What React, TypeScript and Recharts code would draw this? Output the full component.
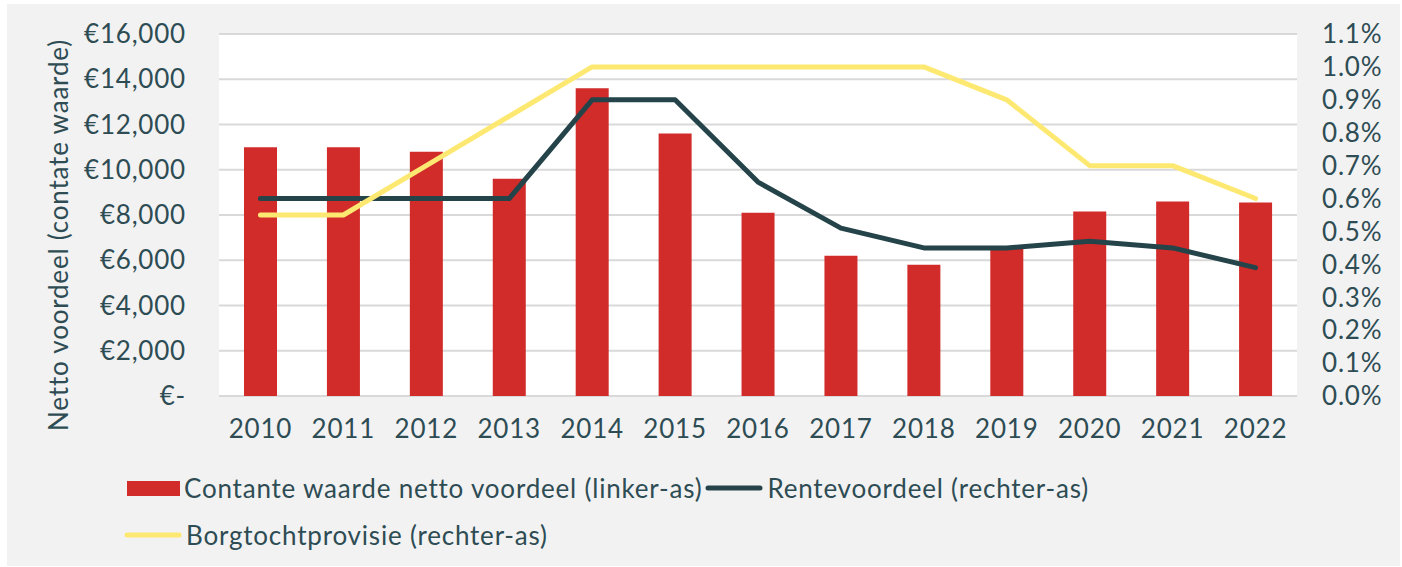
import React from 'react';
import { ComposedChart, Bar, Line, XAxis, YAxis, CartesianGrid, Label } from 'recharts';

const years = ['2010', '2011', '2012', '2013', '2014', '2015', '2016', '2017', '2018', '2019', '2020', '2021', '2022'];
const nettoVoordeel = [11000, 11000, 10800, 9600, 13600, 11600, 8100, 6200, 5800, 6500, 8150, 8600, 8550];
const renteVoordeel = [0.6, 0.6, 0.6, 0.6, 0.9, 0.9, 0.65, 0.51, 0.45, 0.45, 0.47, 0.45, 0.39];
const borgtochtProvisie = [0.55, 0.55, 0.7, 0.85, 1.0, 1.0, 1.0, 1.0, 1.0, 0.9, 0.7, 0.7, 0.6];
const leftTicks = [0, 2000, 4000, 6000, 8000, 10000, 12000, 14000, 16000];
const rightTicks = [0, 0.1, 0.2, 0.3, 0.4, 0.5, 0.6, 0.7, 0.8, 0.9, 1.0, 1.1];

const seriesNames = {
  bar: 'Contante waarde netto voordeel (linker-as)',
  rente: 'Rentevoordeel (rechter-as)',
  borg: 'Borgtochtprovisie (rechter-as)',
};
const yAxisTitle = 'Netto voordeel (contate waarde)';

const COLORS = {
  bg: '#f2f2f2',
  plot: '#ffffff',
  grid: '#d9d9d9',
  text: '#2e4c54',
  red: '#d12b2a',
  dark: '#25444a',
  yellow: '#fde972',
};

const data = years.map((y, i) => ({
  year: y,
  netto: nettoVoordeel[i],
  rente: renteVoordeel[i],
  borg: borgtochtProvisie[i],
}));

const FONT = 'Lato, "Open Sans", sans-serif';
const FS = 26;
const LS = 0.8;

const fmtEuro = (v: number) => (v === 0 ? '€-' : '€' + v.toLocaleString('en-US'));
const fmtPct = (v: number) => v.toFixed(1) + '%';

const textStyle: React.CSSProperties = {
  fontFamily: FONT,
  fontSize: FS,
  color: COLORS.text,
  whiteSpace: 'nowrap',
  lineHeight: '30px',
  letterSpacing: LS,
};

const tickProps = { fill: COLORS.text, fontSize: FS, fontFamily: FONT, letterSpacing: LS };

const ChartLegend = () => (
  <div style={{ position: 'absolute', left: 0, top: 464, width: 1393, height: 90 }}>
    <div style={{ position: 'absolute', left: 120, top: 5, display: 'flex', alignItems: 'center' }}>
      <div style={{ width: 53, height: 15, background: COLORS.red }} />
      <span style={{ ...textStyle, marginLeft: 4 }}>{seriesNames.bar}</span>
      <svg width={58} height={10} style={{ marginLeft: 3 }}>
        <line x1={3} y1={5} x2={55} y2={5} stroke={COLORS.dark} strokeWidth={5} strokeLinecap="round" />
      </svg>
      <span style={{ ...textStyle, marginLeft: 4 }}>{seriesNames.rente}</span>
    </div>
    <div style={{ position: 'absolute', left: 117, top: 52, display: 'flex', alignItems: 'center' }}>
      <svg width={58} height={10}>
        <line x1={3} y1={5} x2={55} y2={5} stroke={COLORS.yellow} strokeWidth={5} strokeLinecap="round" />
      </svg>
      <span style={{ ...textStyle, marginLeft: 4 }}>{seriesNames.borg}</span>
    </div>
  </div>
);

const YTitle = (props: any) => {
  const vb = props.viewBox || { x: 0, y: 30, width: 212, height: 362 };
  const cx = 51;
  const cy = vb.y + vb.height / 2 + 20;
  return (
    <text
      x={cx}
      y={cy}
      transform={`rotate(-90, ${cx}, ${cy})`}
      textAnchor="middle"
      dominantBaseline="central"
      fill={COLORS.text}
      fontFamily={FONT}
      fontSize={FS}
      letterSpacing={LS}
    >
      {yAxisTitle}
    </text>
  );
};

export default function App() {
  return (
    <div style={{ position: 'absolute', left: 7, top: 4, background: COLORS.bg, width: 1393, height: 562 }}>
      <ComposedChart
        width={1393}
        height={562}
        data={data}
        margin={{ top: 30, right: 0, bottom: 130, left: 0 }}
        style={{ fontFamily: FONT }}
      >
        <CartesianGrid vertical={false} stroke={COLORS.grid} strokeWidth={2} fill={COLORS.plot} fillOpacity={1} yAxisId="left" />
        <XAxis
          dataKey="year"
          axisLine={false}
          tickLine={false}
          tickSize={0}
          tickMargin={24}
          height={40}
          tick={tickProps}
        />
        <YAxis
          yAxisId="left"
          orientation="left"
          width={212}
          domain={[0, 16000]}
          ticks={leftTicks}
          interval={0}
          tickFormatter={fmtEuro}
          axisLine={false}
          tickLine={false}
          tickSize={0}
          tickMargin={33}
          tick={tickProps}
        >
          <Label content={<YTitle />} />
        </YAxis>
        <YAxis
          yAxisId="right"
          orientation="right"
          width={103}
          domain={[0, 1.1]}
          ticks={rightTicks}
          interval={0}
          tickFormatter={fmtPct}
          axisLine={false}
          tickLine={false}
          tickSize={0}
          tickMargin={25}
          tick={{ ...tickProps, textAnchor: 'start' }}
        />
        <Bar yAxisId="left" dataKey="netto" name={seriesNames.bar} fill={COLORS.red} barSize={33} isAnimationActive={false} />
        <Line
          yAxisId="right"
          dataKey="rente"
          name={seriesNames.rente}
          stroke={COLORS.dark}
          strokeWidth={5}
          strokeLinecap="round"
          strokeLinejoin="round"
          dot={false}
          activeDot={false}
          type="linear"
          isAnimationActive={false}
        />
        <Line
          yAxisId="right"
          dataKey="borg"
          name={seriesNames.borg}
          stroke={COLORS.yellow}
          strokeWidth={5}
          strokeLinecap="round"
          strokeLinejoin="round"
          dot={false}
          activeDot={false}
          type="linear"
          isAnimationActive={false}
        />
      </ComposedChart>
      <ChartLegend />
    </div>
  );
}
